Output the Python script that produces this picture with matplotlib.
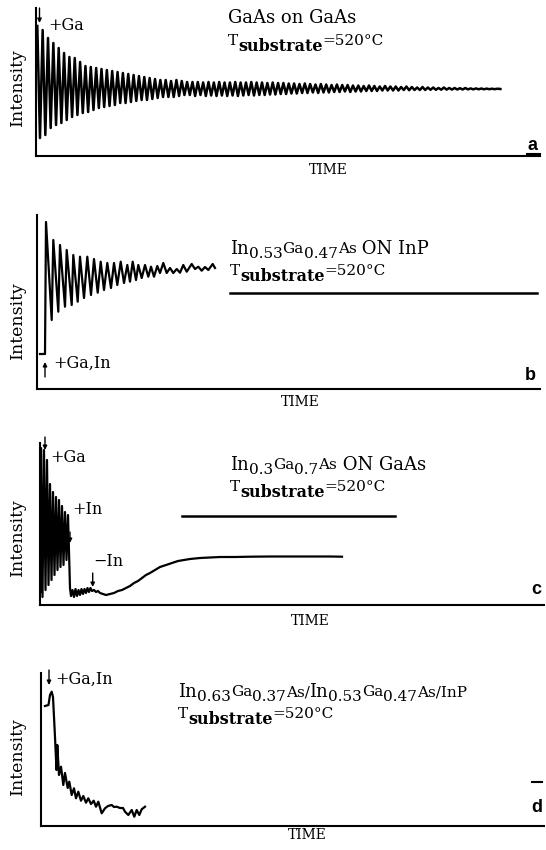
import numpy as np
import matplotlib
matplotlib.use('Agg')
import matplotlib.pyplot as plt

# --- data (intensity in arbitrary units, time in arbitrary units) ---

# a: GaAs on GaAs, peak / trough values of the oscillations
peak_a = [130, 126, 118, 113, 108, 103, 99, 98, 94, 90, 89, 88, 87, 86, 85,
          84, 83, 82, 81, 80, 79, 78, 77, 76, 76, 75, 76, 75, 74,
          74, 74, 73.5, 74, 73.5, 74, 73.5,
          73.5, 74, 73.5, 73.5, 74, 73.5,
          73.5, 73, 73.5, 73, 73, 72.5,
          72.5, 72, 72.5, 72, 71.5, 72,
          71.5, 71, 71.5, 71, 71, 70.5,
          70.5, 70, 70.5, 70, 69.5, 70,
          69.5, 69.5, 69, 69.5, 69, 68.5,
          69, 68.5, 68.5, 68, 68.5, 68,
          68, 67.8, 68, 67.6, 67.6, 67.5,
          67.4, 67.3, 67.3]
trough_a = [18, 21, 28, 31, 33, 36, 39, 41, 43, 44, 46, 48, 49, 50, 51,
            53, 53, 54, 55, 56, 56, 57, 58, 59, 59, 59, 60, 61, 61,
            60, 61, 60, 60.5, 60, 60.5, 60,
            60.5, 60, 60.5, 61, 60.5, 61,
            61, 61.5, 61.5, 62, 62, 62.5,
            62.5, 63, 63, 63.5, 63, 63.5,
            63.5, 64, 64, 64.5, 64, 64.5,
            64.5, 65, 65, 65, 65.5, 65.5,
            65.5, 65.5, 66, 65.8, 66, 66,
            66, 66.2, 66.2, 66.3, 66.4, 66.4,
            66.5, 66.5, 66.6, 66.6, 66.7, 66.7,
            66.8, 66.8]
t0_a, period_a = 1.3, 5.35

# b: In0.53Ga0.47As on InP
time_b = [3, 8, 9, 14.7, 16.3, 21.3, 23, 28, 29.7, 34.7, 36.3, 40.7, 43, 47, 50.3,
          54, 57, 60.7, 63.7, 67, 70.3, 74, 77, 80.3, 83.7, 87, 90.3, 93, 95.7, 99,
          101.3, 104.7, 108, 111.3, 114, 117, 120.3, 123, 126.3, 129.7, 133, 136.3,
          139.7, 143, 146.3, 149.7, 154.7, 158, 161.3, 164.7, 168, 171.3, 175.7, 178]
int_b = [35, 35, 167, 69, 149, 77.3, 144, 82.3, 139, 84, 134, 87.3, 132.3, 91, 132.3,
         94, 130, 96.3, 127.3, 99, 126, 101, 126, 104, 127.3, 106, 124, 107.3, 127.3, 109,
         124, 111, 124, 112.3, 122.3, 112.3, 123, 116, 126, 116, 121, 116,
         120, 116.3, 124, 117.3, 125, 120, 122.3, 118.3, 122, 119, 125, 121]

# c: In0.3Ga0.7As on GaAs
time_c = [0.5, 1, 2.5, 4, 5.5, 7, 8.5, 10, 11.5, 13, 14.5, 16, 17.5, 19, 20.5,
          22, 23.5, 25, 26.5, 28, 30, 31, 32.5, 34, 35.5, 37, 38.5, 40, 41.5, 43,
          44.5, 46, 47.5, 49, 50.5, 52, 54, 56, 58, 60, 63, 66, 70, 74, 78,
          82, 86, 90, 94, 98, 102, 106, 110, 115, 120, 126, 132, 138, 144, 150,
          160, 170, 180, 195, 210, 230, 250, 270, 290, 302]
int_c = [13, 157, 8, 155, 15, 145, 20, 121, 25, 113, 30, 108, 35, 105, 38,
         99, 40, 93, 45, 90, 17, 9, 15, 8, 16, 9, 15, 10, 16, 11,
         16, 12, 17, 13, 17, 14, 15, 13, 14, 12, 11, 10, 11, 12, 14,
         15, 17, 19, 22, 24, 27, 30, 32, 35, 38, 40, 42, 44, 45, 46,
         47, 47.5, 48, 48, 48.3, 48.5, 48.5, 48.5, 48.5, 48.3]

# d: In0.63Ga0.37As / In0.53Ga0.47As / InP
time_d = [4, 7.5, 9, 10.7, 12, 14, 15.5, 16.3, 18, 20, 22.3, 24, 26.7, 28.3, 30.7,
          33, 35, 37.3, 40, 42.3, 45, 47.3, 50, 52.7, 55, 57.3, 60.7, 64, 67, 70.7,
          73, 75.7, 79, 82, 84, 87.3, 90.7, 93.3, 95.7, 98.3, 100.7, 104]
int_d = [120, 121, 131, 134.3, 129, 89, 56, 81, 51, 59.3, 41, 53, 38, 44.3, 31,
         37.7, 27.7, 34.3, 25.3, 30, 23.3, 27.7, 22, 25.3, 19.3, 24.3, 12.7, 17.7, 20, 21,
         19, 19.3, 18, 18, 14.3, 11, 16, 9.3, 16, 11, 16.7, 19.3]

# title pieces: (text, kind) where kind = main / sub / small
title_a = [('GaAs on GaAs', 'main')]
title_b = [('In', 'main'), ('0.53', 'sub'), ('Ga', 'small'), ('0.47', 'sub'),
           ('As', 'small'), (' ON InP', 'main')]
title_c = [('In', 'main'), ('0.3', 'sub'), ('Ga', 'small'), ('0.7', 'sub'),
           ('As', 'small'), (' ON GaAs', 'main')]
title_d = [('In', 'main'), ('0.63', 'sub'), ('Ga', 'small'), ('0.37', 'sub'),
           ('As/', 'small'), ('In', 'main'), ('0.53', 'sub'), ('Ga', 'small'),
           ('0.47', 'sub'), ('As/InP', 'small')]
tsub = [('T', 'small'), ('substrate', 'bsub'), ('=520°C', 'small')]
letters = ['a', 'b', 'c', 'd']

# --- layout ---
W, H = 546, 850
serif = 'DejaVu Serif'
styles = {'main': (13, 0, 'normal'), 'sub': (11, 4, 'normal'),
          'small': (11, -1, 'normal'), 'bsub': (11.5, 5, 'bold')}

fig = plt.figure(figsize=(W / 100, H / 100), dpi=100)
renderer = fig.canvas.get_renderer()


def panel(left, right, top, bottom):
    ax = fig.add_axes([left / W, 1 - bottom / H, (right - left) / W, (bottom - top) / H])
    ax.set_xlim(0, right - left)
    ax.set_ylim(0, bottom - top)
    for s in ['top', 'right']:
        ax.spines[s].set_visible(False)
    for s in ['left', 'bottom']:
        ax.spines[s].set_linewidth(1.5)
    ax.set_xticks([])
    ax.set_yticks([])
    ax.patch.set_alpha(0)
    return ax


def txt(x, y, s, size=11, **kw):
    kw.setdefault('family', serif)
    kw.setdefault('va', 'center')
    return fig.text(x / W, 1 - y / H, s, fontsize=size, **kw)


def rich(x, baseline, pieces):
    for s, kind in pieces:
        size, dy, wt = styles[kind]
        t = txt(x, baseline + dy, s, size, va='baseline', weight=wt)
        x += t.get_window_extent(renderer).width


def arrow(x, y_from, y_to):
    fig.add_artist(plt.Annotation('', xy=(x, H - y_to), xytext=(x, H - y_from),
                                  xycoords='figure pixels', textcoords='figure pixels',
                                  arrowprops=dict(arrowstyle='-|>', lw=1.0, color='k',
                                                  mutation_scale=6, shrinkA=0, shrinkB=0)))


def hline(x0, x1, y, lw=1.8):
    fig.add_artist(plt.Line2D([x0 / W, x1 / W], [1 - y / H, 1 - y / H], color='k', lw=lw))


# a
ax = panel(36, 540, 8, 156)
n = len(peak_a) + len(trough_a)
t_a = t0_a + period_a / 2 * np.arange(n)
y_a = np.empty(n)
y_a[0::2] = peak_a
y_a[1::2] = trough_a
ax.plot(np.append(t_a, t_a[-1] + 3), np.append(y_a, 67), color='k', lw=1.8)

# b
ax = panel(37, 540, 215, 389)
ax.plot(time_b, int_b, color='k', lw=1.6)

# c
ax = panel(40, 544, 443, 605)
ax.plot(time_c, int_c, color='k', lw=1.6)

# d
ax = panel(41, 544, 673, 826)
ax.plot(time_d, int_d, color='k', lw=1.6)

# annotations
arrow(39.5, 8, 23)
txt(48, 26, '+Ga', 11.5)
rich(228, 23, title_a)
rich(228, 46, tsub)

arrow(45, 377, 362)
txt(53, 363, '+Ga,In', 11.5)
rich(230, 254, title_b)
rich(230, 276, tsub)
hline(230, 537, 293)

arrow(45, 437, 450)
txt(50, 458, '+Ga', 11.5)
arrow(70, 532, 543)
txt(72, 510, '+In', 11.5)
arrow(92.7, 573, 587)
txt(93, 562, '\u2212In', 11.5)
rich(230, 470, title_c)
rich(230, 492, tsub)
hline(182, 395, 516)

arrow(49, 670, 685)
txt(55, 679, '+Ga,In', 11.5)
rich(178, 697, title_d)
rich(178, 719, tsub)
hline(532, 542, 782, lw=1.5)

for lab, (x, y) in zip(letters, [(533, 146), (530, 375), (536, 590), (537, 808)]):
    txt(x, y, lab, 13, family='Liberation Sans', weight='bold', ha='center')
hline(527, 540, 154, lw=1.5)

for x, y in [(328, 170), (300, 402), (310, 621), (307, 835)]:
    txt(x, y, 'TIME', 10, ha='center')

for y in [87, 320, 537, 756]:
    txt(17, y, 'Intensity', 12.5, rotation=90, ha='center')

fig.savefig('out.png', dpi=100)
